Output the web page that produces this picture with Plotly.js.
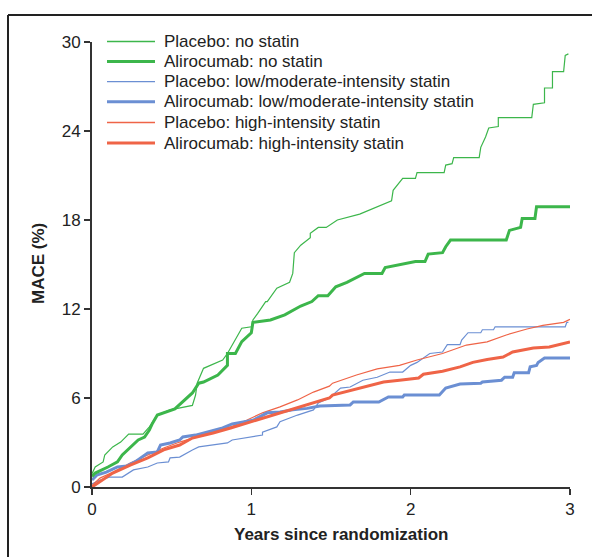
<!DOCTYPE html>
<html>
<head>
<meta charset="utf-8">
<script src="https://cdn.plot.ly/plotly-3.0.1.min.js"></script>
<style>html,body{margin:0;padding:0;background:#fff;}#chart{width:592px;height:557px;}</style>
</head>
<body>
<div id="chart"></div>
<script>
// ---- Data (years since randomization, MACE %) ----
const placeboNoStatinT = [0, 0.02, 0.07, 0.08, 0.13, 0.18, 0.23, 0.32, 0.36, 0.41, 0.49, 0.63, 0.65, 0.66, 0.70, 0.82, 0.85, 0.94, 1.0, 1.01, 1.04, 1.09, 1.10, 1.14, 1.16, 1.24, 1.26, 1.27, 1.31, 1.37, 1.37, 1.42, 1.47, 1.54, 1.68, 1.88, 1.89, 1.95, 2.03, 2.04, 2.21, 2.22, 2.26, 2.27, 2.43, 2.44, 2.47, 2.49, 2.55, 2.55, 2.76, 2.77, 2.84, 2.84, 2.89, 2.89, 2.96, 2.97, 2.99];
const placeboNoStatinV = [0.9, 1.35, 1.69, 2.16, 2.7, 3.03, 3.57, 3.57, 4.05, 4.85, 5.2, 5.5, 6.2, 7.0, 8.0, 8.56, 9.0, 10.7, 10.8, 11.26, 11.7, 12.5, 12.5, 13.1, 13.4, 13.8, 14.4, 15.8, 16.3, 16.8, 17.1, 17.5, 17.5, 18.0, 18.4, 19.3, 20.0, 20.8, 20.8, 21.2, 21.2, 21.7, 21.8, 22.2, 22.2, 22.9, 23.6, 24.2, 24.3, 24.9, 24.9, 25.8, 25.9, 26.9, 26.9, 28.0, 28.0, 29.1, 29.2];

const aliroNoStatinT = [0, 0.02, 0.10, 0.16, 0.19, 0.24, 0.29, 0.33, 0.36, 0.38, 0.41, 0.52, 0.60, 0.63, 0.67, 0.70, 0.79, 0.85, 0.85, 0.90, 0.94, 1.0, 1.01, 1.12, 1.21, 1.31, 1.38, 1.42, 1.48, 1.53, 1.60, 1.71, 1.82, 1.84, 2.03, 2.09, 2.11, 2.20, 2.22, 2.25, 2.60, 2.62, 2.69, 2.70, 2.78, 2.79, 3.0];
const aliroNoStatinV = [0.7, 0.94, 1.35, 1.69, 2.16, 2.7, 3.17, 3.37, 3.84, 4.3, 4.85, 5.26, 6.07, 6.34, 7.0, 7.08, 7.55, 8.2, 9.0, 9.0, 9.8, 10.4, 11.1, 11.26, 11.6, 12.2, 12.5, 12.9, 12.9, 13.5, 13.8, 14.4, 14.4, 14.8, 15.2, 15.2, 15.7, 15.8, 16.2, 16.65, 16.65, 17.3, 17.5, 18.1, 18.1, 18.9, 18.9];

const placeboLowModT = [0, 0.05, 0.11, 0.19, 0.26, 0.35, 0.41, 0.48, 0.49, 0.55, 0.63, 0.67, 0.85, 0.88, 1.07, 1.07, 1.16, 1.18, 1.29, 1.39, 1.42, 1.49, 1.56, 1.62, 1.70, 1.79, 1.87, 1.95, 2.0, 2.04, 2.12, 2.20, 2.23, 2.31, 2.32, 2.36, 2.44, 2.45, 2.52, 2.53, 2.97, 2.98, 2.99];
const placeboLowModV = [0.2, 0.47, 0.67, 0.67, 1.15, 1.35, 1.62, 1.69, 1.96, 2.02, 2.5, 2.7, 2.97, 3.17, 3.5, 3.7, 4.05, 4.4, 4.85, 5.2, 5.66, 6.0, 6.67, 6.74, 7.2, 7.4, 7.75, 7.75, 8.2, 8.4, 9.0, 9.1, 9.6, 9.6, 9.9, 10.4, 10.4, 10.6, 10.6, 10.8, 10.8, 11.1, 11.1];

const aliroLowModT = [0, 0.03, 0.09, 0.16, 0.22, 0.27, 0.35, 0.41, 0.43, 0.49, 0.55, 0.57, 0.65, 0.72, 0.82, 0.88, 1.01, 1.10, 1.18, 1.26, 1.35, 1.43, 1.62, 1.64, 1.80, 1.86, 1.95, 1.96, 2.18, 2.22, 2.27, 2.31, 2.44, 2.45, 2.57, 2.59, 2.64, 2.65, 2.74, 2.75, 2.79, 2.80, 2.84, 3.0];
const aliroLowModV = [0.47, 0.8, 1.0, 1.35, 1.42, 1.69, 2.3, 2.36, 2.83, 2.97, 3.17, 3.37, 3.5, 3.7, 3.98, 4.25, 4.5, 5.0, 5.06, 5.2, 5.3, 5.46, 5.53, 5.73, 5.73, 6.07, 6.07, 6.2, 6.2, 6.67, 6.8, 6.94, 7.0, 7.08, 7.2, 7.4, 7.4, 7.7, 7.7, 8.1, 8.2, 8.4, 8.7, 8.7];

const placeboHighT = [0, 0.05, 0.13, 0.24, 0.35, 0.45, 0.55, 0.66, 0.76, 0.87, 0.97, 1.07, 1.18, 1.29, 1.39, 1.49, 1.51, 1.66, 1.79, 1.93, 2.04, 2.20, 2.35, 2.48, 2.60, 2.73, 2.83, 2.96, 3.0];
const placeboHighV = [0.1, 0.6, 1.0, 1.62, 2.16, 2.63, 3.03, 3.37, 3.7, 4.05, 4.5, 5.0, 5.4, 5.87, 6.4, 6.8, 7.0, 7.55, 7.96, 8.2, 8.56, 9.0, 9.57, 9.78, 10.25, 10.65, 10.9, 11.1, 11.3];

const aliroHighT = [0, 0.05, 0.13, 0.24, 0.35, 0.45, 0.55, 0.63, 0.76, 0.87, 0.97, 1.07, 1.18, 1.29, 1.39, 1.49, 1.51, 1.73, 1.83, 1.93, 2.05, 2.08, 2.20, 2.31, 2.39, 2.48, 2.58, 2.64, 2.77, 2.87, 2.98, 3.0];
const aliroHighV = [0, 0.34, 0.94, 1.48, 1.96, 2.5, 2.83, 3.3, 3.64, 3.98, 4.3, 4.65, 5.0, 5.33, 5.66, 6.0, 6.2, 6.8, 7.08, 7.2, 7.35, 7.6, 7.8, 8.1, 8.4, 8.6, 8.76, 9.1, 9.37, 9.44, 9.7, 9.78];

const seriesNames = [
  "Placebo: no statin",
  "Alirocumab: no statin",
  "Placebo: low/moderate-intensity statin",
  "Alirocumab: low/moderate-intensity statin",
  "Placebo: high-intensity statin",
  "Alirocumab: high-intensity statin"
];
const xTicks = [0, 1, 2, 3];
const yTicks = [0, 6, 12, 18, 24, 30];
const xTitle = "Years since randomization";
const yTitle = "MACE (%)";

// ---- Styles ----
const GREEN = "#3cb64b", BLUE = "#6b8fd3", RED = "#ef6447";
const colors = [GREEN, GREEN, BLUE, BLUE, RED, RED];
const widths = [1.2, 3, 1.2, 3, 1.2, 3];
const FONT = "Liberation Sans, Arial, Helvetica, sans-serif";
const FS = 17;

const seriesData = [
  [placeboNoStatinT, placeboNoStatinV],
  [aliroNoStatinT, aliroNoStatinV],
  [placeboLowModT, placeboLowModV],
  [aliroLowModT, aliroLowModV],
  [placeboHighT, placeboHighV],
  [aliroHighT, aliroHighV]
];
const drawOrder = [0, 2, 4, 3, 1, 5];
const traces = drawOrder.map(i => ({
  x: seriesData[i][0], y: seriesData[i][1], name: seriesNames[i],
  type: "scatter", mode: "lines", showlegend: false,
  line: {color: colors[i], width: widths[i], shape: "linear"},
  hoverinfo: "skip"
}));

// plot area: x 92..570 px, y 42..487 px
const L = 92, W = 478, H = 445;
const px = v => (v - L) / W;
const py = v => (487 - v) / H;

const shapes = [];
const annotations = [];
// frame (top and left border)
shapes.push({type: "line", xref: "paper", yref: "paper", x0: px(8), x1: px(600), y0: py(15), y1: py(15), line: {color: "#222", width: 2}});
shapes.push({type: "line", xref: "paper", yref: "paper", x0: px(8), x1: px(8), y0: py(15), y1: py(570), line: {color: "#222", width: 2}});

// custom legend
const legendY = [41.5, 61.5, 81.7, 101.8, 122.5, 143];
seriesNames.forEach((n, i) => {
  shapes.push({type: "line", xref: "paper", yref: "paper", x0: px(107), x1: px(155), y0: py(legendY[i]), y1: py(legendY[i]),
    line: {color: colors[i], width: widths[i] === 3 ? 3 : 1.3}});
  annotations.push({xref: "paper", yref: "paper", x: px(162), y: py(legendY[i]), xanchor: "left", yanchor: "middle",
    text: n, showarrow: false, font: {family: FONT, size: FS, color: "#222"}});
});

// axis titles
annotations.push({xref: "paper", yref: "paper", x: px(341), y: py(534), xanchor: "center", yanchor: "middle",
  text: "<b>" + xTitle + "</b>", showarrow: false, font: {family: FONT, size: FS, color: "#222"}});
annotations.push({xref: "paper", yref: "paper", x: px(38), y: py(264), xanchor: "center", yanchor: "middle", textangle: -90,
  text: "<b>" + yTitle + "</b>", showarrow: false, font: {family: FONT, size: FS, color: "#222"}});

const layout = {
  width: 592, height: 557,
  margin: {l: 92, r: 22, t: 42, b: 70, pad: 0},
  paper_bgcolor: "#fff", plot_bgcolor: "#fff",
  font: {family: FONT, size: FS, color: "#222"},
  showlegend: false,
  xaxis: {
    range: [0, 3], tickvals: xTicks, ticktext: xTicks.map(String),
    showgrid: false, zeroline: false, showline: true, linecolor: "#333", linewidth: 2,
    ticks: "outside", ticklen: 6, tickwidth: 1.5, tickcolor: "#333",
    tickfont: {family: FONT, size: FS, color: "#222"}, fixedrange: true
  },
  yaxis: {
    range: [0, 30], tickvals: yTicks, ticktext: yTicks.map(String),
    showgrid: false, zeroline: false, showline: true, linecolor: "#333", linewidth: 2,
    ticks: "outside", ticklen: 6, tickwidth: 1.5, tickcolor: "#333",
    tickfont: {family: FONT, size: FS, color: "#222"}, fixedrange: true
  },
  shapes: shapes,
  annotations: annotations
};

Plotly.newPlot("chart", traces, layout, {displayModeBar: false, staticPlot: true});
</script>
</body>
</html>
